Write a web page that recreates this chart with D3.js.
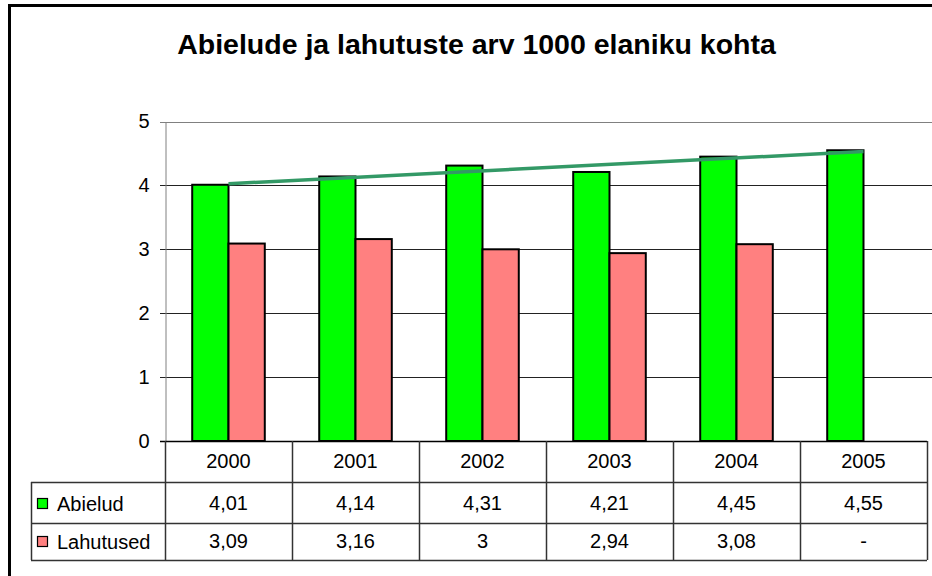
<!DOCTYPE html>
<html>
<head>
<meta charset="utf-8">
<script src="https://cdn.jsdelivr.net/npm/d3@7"></script>
<style>
  body { margin: 0; background: #fff; }
  text { font-family: "Liberation Sans", Arial, sans-serif; }
</style>
</head>
<body>
<div id="chart"></div>
<script>
// data
var years = ["2000", "2001", "2002", "2003", "2004", "2005"];
var abielud = [4.01, 4.14, 4.31, 4.21, 4.45, 4.55];
var lahutused = [3.09, 3.16, 3.00, 2.94, 3.08, null];
var seriesNames = ["Abielud", "Lahutused"];
var seriesColors = ["#00ff00", "#ff8080"];
var yTicks = [0, 1, 2, 3, 4, 5];

// svg container
var svgWidth = 932;
var svgHeight = 576;

var plot = { left: 165, right: 927, top: 121.5, bottom: 441 };
var rowH = [41, 41, 37];

var svg = d3.select("#chart").append("svg")
  .attr("width", svgWidth)
  .attr("height", svgHeight);

// outer frame (runs off the right and bottom edge)
svg.append("rect")
  .attr("x", 9.5).attr("y", 5.5)
  .attr("width", 1000).attr("height", 1000)
  .attr("fill", "none")
  .attr("stroke", "#000")
  .attr("stroke-width", 3);

// title
svg.append("text")
  .attr("x", 476.5)
  .attr("y", 54)
  .attr("text-anchor", "middle")
  .attr("font-size", "28.5px")
  .attr("font-weight", "bold")
  .text("Abielude ja lahutuste arv 1000 elaniku kohta");

// scales
var x0 = d3.scaleBand().domain(years).range([plot.left, plot.right]);
var barW = x0.bandwidth() / 3.5;
var x1 = d3.scaleBand().domain(seriesNames)
  .range([(x0.bandwidth() - 2 * barW) / 2, (x0.bandwidth() + 2 * barW) / 2]);
var y = d3.scaleLinear().domain([0, 5]).range([plot.bottom, plot.top]);

// gridlines
svg.append("g").selectAll("line")
  .data(yTicks.filter(d => d > 0))
  .enter().append("line")
  .attr("x1", plot.left - 5).attr("x2", svgWidth)
  .attr("y1", d => Math.round(y(d)) + 0.5)
  .attr("y2", d => Math.round(y(d)) + 0.5)
  .attr("stroke", d => d == 5 ? "#808080" : "#222")
  .attr("stroke-width", 1);

// y axis
var yAxis = d3.axisLeft(y).tickValues(yTicks).tickFormat(d3.format("d")).tickSize(0).tickPadding(16);
var yAxisG = svg.append("g")
  .attr("transform", `translate(${plot.left + 0.5},0)`)
  .call(yAxis);
yAxisG.select(".domain").attr("stroke", "#808080");
yAxisG.selectAll("text")
  .attr("font-size", "20px")
  .attr("fill", "#000")
  .style("font-family", "Liberation Sans, Arial, sans-serif");

// bars
var series = [abielud, lahutused];
series.forEach(function(vals, si) {
  svg.append("g").selectAll("rect")
    .data(vals.map((v, i) => ({ year: years[i], value: v })).filter(d => d.value != null))
    .enter().append("rect")
    .attr("x", d => x0(d.year) + x1(seriesNames[si]))
    .attr("y", d => y(d.value))
    .attr("width", barW)
    .attr("height", d => y(0) - y(d.value))
    .attr("fill", seriesColors[si])
    .attr("stroke", "#000")
    .attr("stroke-width", 2);
});

// linear trend for Abielud (least squares)
var xi = abielud.map((d, i) => i);
var mx = d3.mean(xi), my = d3.mean(abielud);
var slope = d3.sum(xi, i => (i - mx) * (abielud[i] - my)) / d3.sum(xi, i => (i - mx) * (i - mx));
var icpt = my - slope * mx;
var first = 0, last = years.length - 1;
svg.append("line")
  .attr("x1", x0(years[first]) + x0.bandwidth() / 2)
  .attr("y1", y(icpt + slope * first))
  .attr("x2", x0(years[last]) + x0.bandwidth() / 2)
  .attr("y2", y(icpt + slope * last))
  .attr("stroke", "#339966")
  .attr("stroke-width", 3.5);

// data table
var table = svg.append("g").attr("class", "table");
var tableTop = plot.bottom;
var rowY = [tableTop, tableTop + rowH[0], tableTop + rowH[0] + rowH[1], tableTop + rowH[0] + rowH[1] + rowH[2]];
var legendLeft = 31;
var lineColor = "#333";

// horizontal lines
table.append("line")
  .attr("x1", plot.left - 5).attr("x2", plot.right)
  .attr("y1", rowY[0] + 0.5).attr("y2", rowY[0] + 0.5)
  .attr("stroke", "#000").attr("stroke-width", 1.5);
[1, 2, 3].forEach(function(r) {
  table.append("line")
    .attr("x1", legendLeft).attr("x2", plot.right)
    .attr("y1", rowY[r] + 0.5).attr("y2", rowY[r] + 0.5)
    .attr("stroke", lineColor).attr("stroke-width", 1.5);
});
// vertical lines
table.append("line")
  .attr("x1", legendLeft + 0.5).attr("x2", legendLeft + 0.5)
  .attr("y1", rowY[1]).attr("y2", rowY[3])
  .attr("stroke", lineColor).attr("stroke-width", 1.5);
table.selectAll(".vline")
  .data(years.concat(["end"]))
  .enter().append("line")
  .attr("x1", (d, i) => Math.round(plot.left + i * x0.bandwidth()) + 0.5)
  .attr("x2", (d, i) => Math.round(plot.left + i * x0.bandwidth()) + 0.5)
  .attr("y1", rowY[0]).attr("y2", rowY[3])
  .attr("stroke", lineColor).attr("stroke-width", 1.5);

// header row
table.selectAll(".yr")
  .data(years)
  .enter().append("text")
  .attr("x", d => x0(d) + x0.bandwidth() / 2)
  .attr("y", rowY[0] + 27)
  .attr("text-anchor", "middle")
  .attr("font-size", "20px")
  .text(d => d);

// value rows
function fmt(v) {
  if (v == null) return "-";
  return d3.format("~g")(+v.toFixed(2)).replace(".", ",");
}
var baselines = [rowY[1] + 28, rowY[2] + 25];
series.forEach(function(vals, si) {
  // legend key
  table.append("rect")
    .attr("x", 37.5).attr("y", baselines[si] - 11.5)
    .attr("width", 10).attr("height", 10)
    .attr("fill", seriesColors[si])
    .attr("stroke", "#000").attr("stroke-width", 1.2);
  table.append("text")
    .attr("x", 57)
    .attr("y", baselines[si] + 1)
    .attr("font-size", "20px")
    .text(seriesNames[si]);
  table.selectAll(".v" + si)
    .data(vals)
    .enter().append("text")
    .attr("x", (d, i) => x0(years[i]) + x0.bandwidth() / 2)
    .attr("y", baselines[si])
    .attr("text-anchor", "middle")
    .attr("font-size", "20px")
    .text(d => fmt(d));
});
</script>
</body>
</html>
